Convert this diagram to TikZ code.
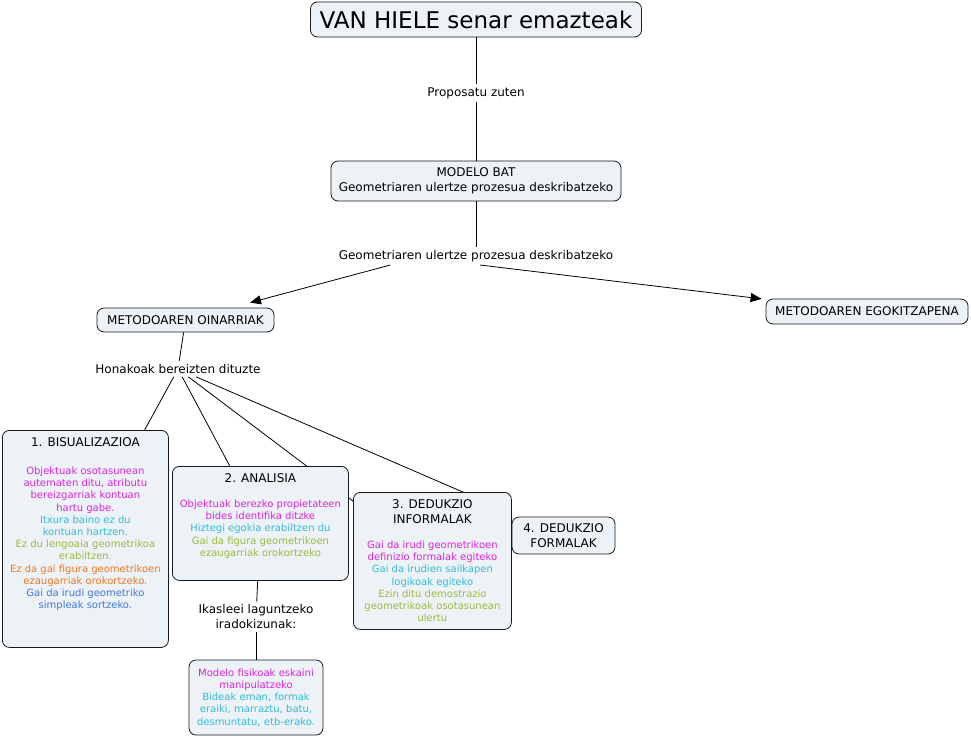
\documentclass[tikz,border=0pt]{standalone}
\usepackage{fontspec}
\setmainfont{DejaVu Sans}
\usetikzlibrary{arrows.meta,backgrounds}
\definecolor{boxfill}{RGB}{236,242,245}
\definecolor{mag}{RGB}{221,34,221}
\definecolor{cyn}{RGB}{51,187,221}
\definecolor{grn}{RGB}{153,187,68}
\definecolor{org}{RGB}{238,119,34}
\definecolor{blu}{RGB}{68,119,221}
\newcommand{\cfont}{\fontsize{12}{15}\selectfont}
\newcommand{\sfont}{\fontsize{10}{12.2}\selectfont}
\newcommand{\toptext}[3]{\parbox[c][#2][t]{#1}{\centering\vspace*{7pt}#3}}

\begin{document}
\begin{tikzpicture}[x=1pt,y=-1pt,
    concept/.style={draw=black!90, line width=0.8pt, rounded corners=7pt, fill=boxfill, align=center, font=\cfont, inner sep=0pt},
    linkword/.style={font=\cfont, align=center, inner sep=3pt},
    link/.style={line width=0.8pt},
    arrow/.style={link, -{Triangle[length=11pt,width=9pt]}, shorten >=4pt}]
    \useasboundingbox (0,0) rectangle (971,737);
    \node [concept, minimum width=331pt, minimum height=35pt, font=\fontsize{23}{26}\selectfont] (hiele) at (476,19.5) {VAN HIELE senar emazteak};
    \node [linkword] (proposatu) at (476,93) {Proposatu zuten};
    \node [concept, minimum width=290pt, minimum height=40pt] (modelo) at (476,181) {MODELO BAT\\Geometriaren ulertze prozesua deskribatzeko};
    \node [linkword] (deskr) at (476,256) {Geometriaren ulertze prozesua deskribatzeko};
    \node [concept, minimum width=177pt, minimum height=24pt] (oinarri) at (185.5,320) {METODOAREN OINARRIAK};
    \node [concept, minimum width=202pt, minimum height=25pt] (egokitz) at (867,311.5) {METODOAREN EGOKITZAPENA};
    \node [linkword] (bereizi) at (178,369) {Honakoak bereizten dituzte};
    \node [concept, anchor=north west] (bisual) at (2,430) {\toptext{166pt}{217pt}{1. BISUALIZAZIOA\par\vspace{16pt}\sfont
      \textcolor{mag}{Objektuak osotasunean\\autematen ditu, atributu\\bereizgarriak kontuan\\hartu gabe.}\\
      \textcolor{cyn}{Itxura baino ez du\\kontuan hartzen.}\\
      \textcolor{grn}{Ez du lengoaia geometrikoa\\erabiltzen.}\\
      \textcolor{org}{Ez da gai figura geometrikoen\\ezaugarriak orokortzeko.}\\
      \textcolor{blu}{Gai da irudi geometriko\\simpleak sortzeko.}\par}};
    \node [concept, anchor=north west] (analisi) at (172,466) {\toptext{176pt}{114pt}{2. ANALISIA\par\vspace{13pt}\sfont
      \textcolor{mag}{Objektuak berezko propietateen\\bides identifika ditzke}\\
      \textcolor{cyn}{Hiztegi egokia erabiltzen du}\\
      \textcolor{grn}{Gai da figura geometrikoen\\ezaugarriak orokortzeko}\par}};
    \node [concept, anchor=north west] (informal) at (353,492) {\toptext{158pt}{137pt}{3. DEDUKZIO\\INFORMALAK\par\vspace{13pt}\sfont
      \textcolor{mag}{Gai da irudi geometrikoen\\definizio formalak egiteko}\\
      \textcolor{cyn}{Gai da irudien sailkapen\\logikoak egiteko}\\
      \textcolor{grn}{Ezin ditu demostrazio\\geometrikoak osotasunean\\ulertu}\par}};
    \node [concept, minimum width=103pt, minimum height=37pt] (formal) at (563.5,535.5) {4. DEDUKZIO\\FORMALAK};
    \node [linkword] (iradoki) at (256,617) {Ikasleei laguntzeko\\iradokizunak:};
    \node [concept, minimum width=134pt, minimum height=75pt, text width=134pt, font=\sfont] (fisiko) at (256,697.5) {\textcolor{mag}{Modelo fisikoak eskaini\\manipulatzeko}\\
      \textcolor{cyn}{Bideak eman, formak\\eraiki, marraztu, batu,\\desmuntatu, etb-erako.}};
    \draw [link] (hiele) -- (proposatu);
    \draw [link] (proposatu) -- (modelo);
    \draw [link] (modelo) -- (deskr);
    \draw [arrow, shorten >=19pt] (deskr.186) -- (oinarri);
    \draw [arrow] ([xshift=4pt]deskr.south) -- (egokitz);
    \draw [link] (oinarri) -- (bereizi);
    \draw [link] (bereizi) -- (bisual);
    \draw [link] (bereizi) -- (analisi);
    \begin{scope}[on background layer]
      \draw [link] (bereizi) -- (informal.center);
      \draw [link, shorten >=11pt] (bereizi) -- (formal);
    \end{scope}
    \draw [link] (analisi) -- (iradoki);
    \draw [link] (iradoki) -- (fisiko);
\end{tikzpicture}
\end{document}
